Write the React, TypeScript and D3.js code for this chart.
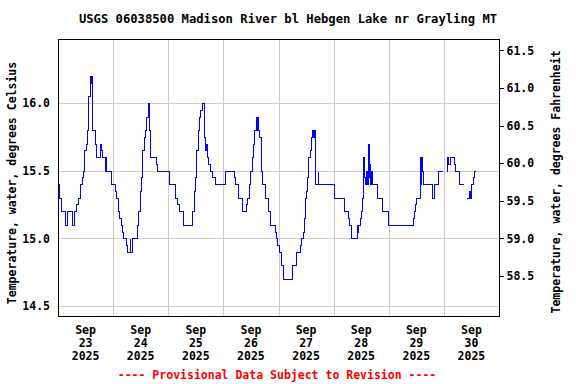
import React, { useRef, useEffect } from 'react';
import * as d3 from 'd3';

// [time of day, water temperature in deg C]; only the readings where the value changes.
// null marks a gap in the record.
type Reading = [string, number | null];

const sep23: Reading[] = [
  ['00:00', 15.4], ['00:30', 15.3], ['01:30', 15.2], ['03:15', 15.1], ['04:00', 15.2],
  ['06:00', 15.1], ['06:45', 15.2], ['08:00', 15.25], ['08:45', 15.3], ['09:45', 15.4],
  ['10:30', 15.45], ['11:00', 15.5], ['11:30', 15.65], ['12:00', 15.7], ['12:30', 15.8],
  ['13:00', 15.95], ['13:15', 16.05], ['13:45', 16.1], ['14:00', 16.2], ['14:15', 16.15],
  ['14:30', 16.2], ['14:45', 15.85], ['15:00', 15.8], ['16:00', 15.7], ['16:30', 15.6],
  ['18:15', 15.7], ['18:45', 15.65], ['19:00', 15.6], ['20:15', 15.5], ['20:30', 15.6],
  ['20:45', 15.5], ['23:15', 15.4],
];
const sep24: Reading[] = [
  ['01:00', 15.35], ['01:15', 15.3], ['02:00', 15.2], ['02:30', 15.15], ['03:15', 15.1],
  ['03:45', 15.05], ['04:30', 15.0], ['05:45', 14.95], ['06:00', 14.9], ['07:15', 15.0],
  ['07:30', 14.9], ['08:15', 15.0], ['10:30', 15.1], ['11:00', 15.2], ['11:30', 15.35],
  ['12:00', 15.45], ['12:30', 15.55], ['12:45', 15.65], ['13:15', 15.75], ['13:45', 15.8],
  ['14:15', 15.85], ['14:30', 15.9], ['15:00', 15.95], ['15:15', 16.0], ['15:45', 15.8],
  ['16:15', 15.6], ['18:45', 15.55], ['19:15', 15.5],
];
const sep25: Reading[] = [
  ['00:15', 15.45], ['00:30', 15.4], ['03:00', 15.3], ['03:45', 15.25], ['04:30', 15.2],
  ['06:15', 15.15], ['06:30', 15.1], ['10:30', 15.2], ['11:00', 15.25], ['11:15', 15.35],
  ['11:45', 15.45], ['12:15', 15.65], ['12:45', 15.7], ['13:00', 15.8], ['13:30', 15.9],
  ['14:00', 15.95], ['14:30', 16.0], ['15:45', 15.75], ['16:00', 15.65], ['16:15', 15.7],
  ['16:45', 15.6], ['17:30', 15.55], ['18:15', 15.5], ['19:00', 15.45], ['20:15', 15.4],
];
const sep26: Reading[] = [
  ['00:45', 15.5], ['04:45', 15.45], ['05:15', 15.4], ['06:30', 15.3], ['08:15', 15.2],
  ['09:45', 15.25], ['10:15', 15.3], ['11:00', 15.4], ['11:45', 15.5], ['12:15', 15.55],
  ['12:30', 15.6], ['13:00', 15.7], ['13:30', 15.8], ['14:15', 15.9], ['14:30', 15.8],
  ['14:45', 15.9], ['15:00', 15.8], ['15:30', 15.75], ['16:15', 15.5], ['17:00', 15.4],
  ['18:15', 15.3], ['19:30', 15.2], ['20:30', 15.1], ['22:30', 15.05], ['23:00', 15.0],
  ['23:30', 14.95],
];
const sep27: Reading[] = [
  ['00:00', 14.9], ['01:00', 14.8], ['02:00', 14.7], ['05:45', 14.75], ['06:00', 14.8],
  ['07:45', 14.9], ['09:30', 14.95], ['10:00', 15.0], ['10:30', 15.05], ['11:00', 15.15],
  ['11:45', 15.3], ['12:00', 15.35], ['12:30', 15.45], ['13:00', 15.6], ['13:30', 15.65],
  ['14:00', 15.7], ['14:15', 15.75], ['14:45', 15.8], ['15:00', 15.75], ['15:15', 15.8],
  ['15:45', 15.65], ['16:00', 15.4], ['17:00', 15.5], ['17:15', 15.4],
];
const sep28: Reading[] = [
  ['00:15', 15.3], ['04:30', 15.2], ['06:15', 15.15], ['06:45', 15.1], ['07:45', 15.0],
  ['10:15', 15.1], ['10:30', 15.05], ['10:45', 15.1], ['11:30', 15.15], ['12:00', 15.2],
  ['12:30', 15.3], ['12:45', 15.5], ['13:00', 15.6], ['13:15', 15.45], ['13:45', 15.4],
  ['14:15', 15.5], ['14:30', 15.4], ['15:00', 15.7], ['15:15', 15.45], ['15:30', 15.55],
  ['15:45', 15.4], ['16:15', 15.5], ['16:30', 15.4], ['18:45', 15.3], ['21:00', 15.2],
  ['23:30', 15.1],
];
const sep29: Reading[] = [
  ['10:45', 15.15], ['11:00', 15.2], ['11:30', 15.25], ['12:00', 15.3], ['13:45', 15.6],
  ['14:00', 15.4], ['14:15', 15.6], ['14:30', 15.5], ['15:00', 15.4], ['19:00', 15.3],
  ['19:30', 15.4], ['21:30', 15.5], ['23:00', 15.5], ['23:15', null],
];
const sep30: Reading[] = [
  ['00:45', 15.5], ['01:30', 15.6], ['02:00', 15.55], ['02:30', 15.6], ['04:15', 15.55],
  ['04:45', 15.5], ['06:45', 15.4], ['08:15', 15.4], ['08:30', null], ['09:45', 15.3],
  ['10:45', 15.35], ['11:15', 15.3], ['11:45', 15.4], ['12:30', 15.45], ['13:00', 15.5],
  ['13:45', 15.5],
];

const days: [number, Reading[]][] = [
  [23, sep23], [24, sep24], [25, sep25], [26, sep26],
  [27, sep27], [28, sep28], [29, sep29], [30, sep30],
];

const celsiusTicks = [14.5, 15.0, 15.5, 16.0];
const fahrenheitTicks = [58.5, 59.0, 59.5, 60.0, 60.5, 61.0, 61.5];
const dayLabels = [23, 24, 25, 26, 27, 28, 29, 30];

const title = 'USGS 06038500 Madison River bl Hebgen Lake nr Grayling MT';
const leftLabel = 'Temperature, water, degrees Celsius';
const rightLabel = 'Temperature, water, degrees Fahrenheit';
const footer = '---- Provisional Data Subject to Revision ----';

const W = 576;
const H = 384;
const plot = { left: 58, right: 499, top: 39, bottom: 316 };
const font = "'DejaVu Sans Mono', 'Liberation Mono', monospace";

interface Pt { t: Date; v: number | null }

// snap to pixel centres so the 1px lines stay sharp
const px = (n: number) => Math.round(n) + 0.5;

const App: React.FC = () => {
  const ref = useRef<SVGSVGElement>(null);

  useEffect(() => {
    const svg = d3.select(ref.current);
    svg.selectAll('*').remove();

    const pts: Pt[] = days.flatMap(([d, rows]) =>
      rows.map(([hm, v]) => ({
        t: new Date(2025, 8, d, +hm.slice(0, 2), +hm.slice(3)),
        v,
      })),
    );

    const x = d3.scaleTime()
      .domain([new Date(2025, 8, 23), new Date(2025, 9, 1)])
      .range([plot.left, plot.right]);
    const cDomain = [14.426, 16.473];
    const y = d3.scaleLinear().domain(cDomain).range([plot.bottom, plot.top]);
    const yF = d3.scaleLinear()
      .domain(cDomain.map(c => c * 1.8 + 32))
      .range([plot.bottom, plot.top]);

    svg.append('rect').attr('width', W).attr('height', H).attr('fill', '#fff');

    // grid
    const grid = svg.append('g')
      .attr('stroke', '#cccccc')
      .attr('shape-rendering', 'crispEdges');
    grid.selectAll('line.h').data(celsiusTicks).enter().append('line')
      .attr('x1', plot.left).attr('x2', plot.right)
      .attr('y1', d => px(y(d))).attr('y2', d => px(y(d)));
    grid.selectAll('line.v').data(d3.timeDay.range(new Date(2025, 8, 24), new Date(2025, 9, 1)))
      .enter().append('line')
      .attr('y1', plot.top).attr('y2', plot.bottom)
      .attr('x1', d => px(x(d))).attr('x2', d => px(x(d)));

    // data
    const line = d3.line<Pt>()
      .defined(p => p.v !== null)
      .x(p => px(x(p.t)))
      .y(p => px(y(p.v as number)))
      .curve(d3.curveStepAfter);
    svg.append('path')
      .datum(pts)
      .attr('d', line)
      .attr('fill', 'none')
      .attr('stroke', '#0000ff')
      .attr('stroke-width', 1)
      .attr('shape-rendering', 'crispEdges');

    // frame
    svg.append('rect')
      .attr('x', plot.left + 0.5).attr('y', plot.top + 0.5)
      .attr('width', plot.right - plot.left).attr('height', plot.bottom - plot.top)
      .attr('fill', 'none').attr('stroke', '#000')
      .attr('shape-rendering', 'crispEdges');

    const fmt = d3.format('.1f');

    const left = svg.append('g')
      .attr('transform', `translate(${plot.left},0)`)
      .call(d3.axisLeft(y).tickValues(celsiusTicks).tickSize(0).tickPadding(8).tickFormat(d => fmt(d as number)));
    left.select('.domain').remove();

    const right = svg.append('g')
      .attr('transform', `translate(${plot.right + 0.5},0)`)
      .call(d3.axisRight(yF).tickValues(fahrenheitTicks).tickSize(4).tickPadding(3).tickFormat(d => fmt(d as number)));
    right.select('.domain').remove();
    right.selectAll('line').attr('stroke', '#000').attr('shape-rendering', 'crispEdges');

    svg.selectAll('.tick text')
      .attr('font-family', font)
      .attr('font-weight', 'bold')
      .attr('font-size', 11.5)
      .attr('fill', '#000');

    // date labels at noon of each day
    const dates = svg.append('g')
      .attr('font-family', font).attr('font-weight', 'bold').attr('font-size', 11.5)
      .attr('text-anchor', 'middle');
    dayLabels.forEach(d => {
      const cx = x(new Date(2025, 8, d, 12));
      const t = dates.append('text').attr('x', cx);
      ['Sep', String(d), '2025'].forEach((s, i) => {
        t.append('tspan').attr('x', cx).attr('y', 334 + i * 13).text(s);
      });
    });

    svg.append('text')
      .attr('x', W / 2).attr('y', 23)
      .attr('text-anchor', 'middle')
      .attr('font-family', font).attr('font-weight', 'bold').attr('font-size', 12.2)
      .text(title);

    svg.append('text')
      .attr('transform', `translate(16,183) rotate(-90)`)
      .attr('text-anchor', 'middle')
      .attr('font-family', font).attr('font-weight', 'bold').attr('font-size', 11.5)
      .text(leftLabel);

    svg.append('text')
      .attr('transform', `translate(560,182) rotate(-90)`)
      .attr('text-anchor', 'middle')
      .attr('font-family', font).attr('font-weight', 'bold').attr('font-size', 11.5)
      .text(rightLabel);

    svg.append('text')
      .attr('x', 277).attr('y', 379)
      .attr('text-anchor', 'middle')
      .attr('font-family', font).attr('font-weight', 'bold').attr('font-size', 11.5)
      .attr('fill', '#ff0000')
      .text(footer);
  }, []);

  return (
    <svg
      ref={ref}
      width={W}
      height={H}
      style={{ position: 'absolute', left: 0, top: 0, display: 'block' }}
    />
  );
};

export default App;
